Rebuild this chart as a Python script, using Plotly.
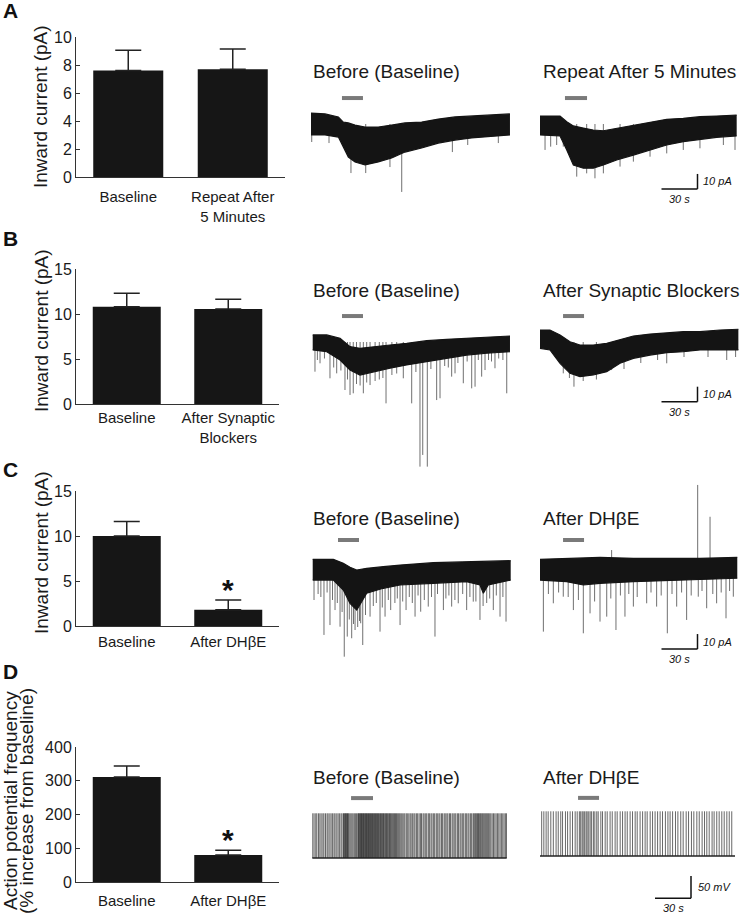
import plotly.graph_objects as go

W, H = 740, 923
FONT = "Liberation Sans, Arial, sans-serif"

# ---------------- bar chart data ----------------
A_cats = ["Baseline", "Repeat After<br>5 Minutes"]
A_mean = [7.6, 7.7]
A_sem = [1.45, 1.45]

B_cats = ["Baseline", "After Synaptic<br>Blockers"]
B_mean = [10.8, 10.55]
B_sem = [1.5, 1.1]

C_cats = ["Baseline", "After DHβE"]
C_mean = [10.0, 1.8]
C_sem = [1.6, 1.1]

D_cats = ["Baseline", "After DHβE"]
D_mean = [311, 80]
D_sem = [33, 14]

# ---------------- current traces (t in s, I in pA) ----------------
A1_t = [0, 11.7, 22.8, 26.9, 31.1, 36.7, 45, 56.1, 67.2, 78.3, 92.2, 106.1, 120, 133.9, 150.6, 165.8]
A1_hi = [7.3, 6.7, 4.7, 1.3, 0.7, -0.7, -2, -2, -0.7, 0.7, 1.3, 3.3, 4.7, 5.3, 6, 6.7]
A1_lo = [-7.3, -7.3, -8.7, -15.3, -22, -25.3, -27.3, -25.3, -22.7, -18.7, -16, -12.7, -10.7, -9.3, -8, -7.3]
A1_ev_t = [0.6, 15, 33.3, 45.6, 65.8, 75.6, 117.8, 130.6, 156.1]
A1_ev_i = [-12, -12.7, -32.7, -32.7, -28.7, -45.3, -18.7, -14, -12.7]

A2_t = [0, 16.7, 22.3, 27.8, 36.1, 44.4, 52.8, 63.9, 77.8, 91.7, 105.6, 119.4, 133.3, 147.2, 163.9]
A2_hi = [5.3, 5.3, 1.5, -1.3, -2.7, -4, -4.5, -2.9, -0.7, 1.5, 3.1, 3.8, 4.9, 5.3, 6]
A2_lo = [-7.3, -8, -17.3, -27.3, -29.5, -29.5, -27.3, -24, -20.7, -17.3, -14, -11.8, -10.2, -8.9, -8]
A2_ev_t = [4.2, 8.9, 13.9, 19.4, 30.6, 38.9, 45.8, 52.8, 66.7, 77.8, 91.7, 105.6, 119.4, 133.3, 152.8, 162.5]
A2_ev_i = [-17.3, -15.1, -14, -15.1, -35.1, -32.9, -36.2, -32.9, -28.4, -25.1, -21.8, -19.6, -17.3, -16.2, -14, -17.3]

B1_t = [0, 11.7, 22.8, 31.1, 39.4, 50.5, 64.4, 78.3, 95, 111.7, 128.3, 145, 164.4]
B1_hi = [4.7, 4.7, 2.5, -3.1, -4.2, -3.1, -2, -0.9, 0.9, 1.8, 2.5, 3.1, 4]
B1_lo = [-5.3, -6.5, -12, -18.7, -22, -19.8, -17.5, -15.3, -13.1, -10.9, -8.7, -7.5, -6.5]
B1_ev_t = [1.9, 6.1, 14.4, 20, 26.9, 31.1, 33.8, 42.2, 47.8, 61.1, 75.5, 82.5, 89.4, 91.7, 95.5,
           103.3, 106.1, 115.8, 118.6, 125.5, 132.5, 135.3, 140.8, 143.6, 151.9, 161.7,
           3.9, 9.8, 17.5, 23.5, 29, 36.5, 39.5, 45, 52, 55.5, 58.5, 66, 70, 86, 98.5, 110, 113, 121,
           128.7, 138, 146.5, 149, 155, 158.5]
B1_ev_i = [-19.8, -14.2, -24.2, -20.9, -32, -35.3, -34.2, -34.2, -28.7, -40.9, -24.2, -40.9, -83.1, -75.3, -83.1,
           -38.7, -37.5, -23.1, -20.9, -27.5, -30.9, -29.8, -23.1, -18.7, -17.5, -34.2,
           -12, -11, -17, -19, -25, -28, -29, -27, -26, -25, -24, -22, -21, -20, -18, -16, -17, -14,
           -13, -12, -12, -13, -11, -12]

B2_t = [0, 8.3, 16.7, 25, 33.3, 44.4, 55.6, 66.7, 77.8, 91.7, 105.6, 119.4, 133.3, 150, 165.3]
B2_hi = [8, 8, 4.7, 0.2, -2, -2, -0.9, 1.8, 4, 5.3, 6.2, 6.9, 6.9, 8, 8.5]
B2_lo = [-4.2, -5.3, -14.2, -20.9, -23.1, -22, -19.8, -14.2, -10.9, -8.7, -7.1, -6.5, -5.3, -5.3, -5.3]
B2_ev_t = [19.4, 28.3, 59.7, 105.6, 155.6, 24.5, 36, 47, 70, 84, 98, 120, 140, 163]
B2_ev_i = [-20.9, -29.8, -18.7, -14.2, -12, -24, -26, -25, -18, -14, -12, -10, -10, -10]

C1_t = [0, 17.2, 25.5, 31.1, 36.7, 45, 58.8, 72.8, 100.5, 128.3, 139.4, 142.2, 146.3, 165]
C1_hi = [7.1, 7.1, 4.5, 1.8, 0, 1.1, 2.2, 3.3, 4.9, 5.5, 5.5, 5.5, 5.5, 6.2]
C1_lo = [-6.7, -6.7, -13.3, -22.2, -26.7, -15.5, -12.2, -10, -8.9, -7.8, -10, -15.5, -10, -6.7]
C1_ev_t = [1.1, 9.4, 14.4, 18.6, 22.8, 26.3, 28.8, 32.5, 35.3, 40, 41.7, 47.8, 56.1, 60.3, 65, 72.8, 77.8,
           85.3, 90, 96.3, 101.9, 108.9, 115.8, 121.3, 128.3, 133.8, 139.4, 150.5, 156.1, 161.1,
           4.5, 6.8, 12, 16.5, 20.5, 24.5, 30.5, 34, 37.5, 39, 44, 50.5, 53, 58, 63, 68.5, 70.5, 75,
           80.5, 83, 87.8, 93, 99, 104, 111, 113.5, 118.5, 125, 131, 136, 142, 145, 147.5, 153, 158.5]
C1_ev_i = [-20, -43.3, -36.7, -26.7, -37.8, -57.8, -44.4, -45.5, -40, -35.5, -50, -31.1, -41.1, -31.1, -26.7,
           -36.7, -26.7, -31.1, -27.8, -24.4, -44.4, -26.7, -24.4, -22.2, -26.7, -21.1, -33.3, -26.7, -31.1, -34.4,
           -16, -18, -15, -20, -22, -28, -33, -36, -38, -34, -30, -24, -22, -25, -20, -22, -19, -21,
           -18, -22, -17, -20, -18, -16, -19, -17, -20, -16, -18, -21, -24, -22, -19, -17, -18]

C2_t = [0, 22.2, 36.1, 50, 77.8, 105.6, 133.3, 164.4]
C2_hi = [7.1, 7.8, 7.8, 8.4, 7.8, 7.8, 7.8, 8.4]
C2_lo = [-6.7, -7.8, -10, -8.9, -7.8, -7.1, -6.7, -5.5]
C2_ev_t = [2.8, 11.1, 19.4, 27.8, 36.1, 41.7, 50, 55.6, 63.3, 70.8, 77.8, 88.9, 97.2, 106.1, 113.9, 122.2,
           131.9, 138.9, 147.2, 155, 161.1, 59.7, 131.4, 141.7,
           7, 15.5, 23.5, 32, 45.5, 59, 67, 74, 81, 92.5, 101, 110, 118, 126, 135, 144, 151, 158]
C2_ev_i = [-41.1, -22.2, -17.8, -26.7, -42.2, -28.9, -34.4, -31.1, -40, -31.1, -24.4, -22.2, -24.4, -42.2,
           -24.4, -33.3, -17.8, -25.5, -22.2, -32.2, -17.8, 13.3, 56.7, 35.5,
           -16, -15, -18, -20, -21, -19, -17, -16, -18, -15, -17, -16, -15, -17, -14, -16, -15, -14]

# drug application (s)
A1_drug = [25.8, 43.3]
A2_drug = [20.8, 39.2]
B1_drug = [24.4, 41.9]
B2_drug = [19.2, 36.7]
C1_drug = [21.1, 38.6]
C2_drug = [19.2, 36.7]
D1_drug = [32.3, 50.6]
D2_drug = [31.7, 49.2]

# ---------------- action potential traces (spike times, s) ----------------
D_rest = -60
D_peak = 40
D1_end = 162
D2_end = 162.5
D1_spikes = [0.4, 1.5, 2.9, 3.8, 5.2, 6.3, 7.4, 8.8, 9.7, 11.0, 12.3, 13.2, 14.6, 15.7, 16.9, 18.1, 19.0,
             20.4, 21.5, 22.6, 23.9, 24.8,
             26.0, 26.5, 27.1, 27.6, 28.2, 28.7, 29.3, 29.8, 30.4,
             31.3, 32.2, 33.1, 34.0, 35.0, 35.9, 36.8,
             37.9, 38.4, 38.9, 39.5, 40.0, 40.5, 41.0, 41.6, 42.1, 42.6, 43.1, 43.7, 44.2, 44.7, 45.2, 45.8,
             46.3, 46.8, 47.4, 47.9, 48.4, 49.0, 49.5, 50.1, 50.6, 51.2, 51.7, 52.3, 52.8, 53.4, 54.0, 54.5,
             55.1, 55.7, 56.3, 56.9, 57.5, 58.1, 58.7, 59.3, 59.9, 60.6, 61.2, 61.8, 62.5, 63.1, 63.8, 64.4,
             65.1, 65.8, 66.5, 67.2, 67.9, 68.6, 69.3, 70.1, 70.8, 71.6, 72.4, 73.2,
             74.1, 75.0, 76.2, 77.1, 78.3, 79.2, 80.4, 81.5, 82.4, 83.6, 84.7, 85.6, 86.9, 87.8, 89.0, 90.1,
             91.0, 92.3, 93.2, 94.5, 95.4, 96.7, 97.6, 98.9, 99.8, 101.1, 102.0, 103.3, 104.2, 105.5, 106.4,
             107.7, 108.6, 109.9, 110.8, 112.1, 113.0, 114.3, 115.2, 116.5, 117.4, 118.7, 119.6, 120.9, 121.8,
             123.1, 124.0, 125.3, 126.2, 127.5, 128.4, 129.7, 130.6, 131.9, 132.8, 134.0, 134.7, 135.5, 136.2,
             137.0, 137.7, 138.5, 139.2, 140.0, 140.7, 141.5, 142.2, 143.0, 143.8, 144.6, 145.4, 146.2, 147.0,
             147.9, 148.8, 149.9, 151.0, 152.1, 153.2, 154.3, 155.4, 156.5, 157.6, 158.7, 159.8, 160.9, 161.8]
D2_spikes = [1.4, 3.2, 5.1, 6.8, 9.0, 11.1, 13.4, 15.2, 17.3, 18.8, 21.2, 23.0, 25.1, 27.1, 29.3, 31.0, 32.8,
             33.9, 35.1, 36.0, 37.2, 38.4, 39.3, 40.6, 41.8, 43.0, 44.5, 45.7, 47.3, 48.5, 50.7, 52.1, 54.3,
             56.0, 58.4, 60.2, 62.6, 64.3, 66.8, 68.8, 70.9, 72.7, 75.1, 77.1, 79.3, 81.0, 83.4, 85.5, 87.6,
             89.3, 91.8, 93.8, 95.9, 98.0, 100.1, 102.1, 104.5, 106.6, 108.4, 110.5, 112.9, 114.9, 117.3,
             119.3, 121.8, 123.8, 126.2, 128.2, 130.7, 132.7, 135.1, 137.1, 139.0, 141.0, 143.4, 145.1,
             147.3, 149.3, 151.5, 153.5, 155.7, 157.7, 159.8]

fig = go.Figure()


def xd(p0, p1):
    return [p0 / W, p1 / W]


def yd(top, bot):
    return [1 - bot / H, 1 - top / H]


def px(x):
    return x / W


def py(y):
    return 1 - y / H


layout = dict(width=W, height=H, margin=dict(l=0, r=0, t=0, b=0, pad=0, autoexpand=False),
              showlegend=False, paper_bgcolor="white", plot_bgcolor="rgba(0,0,0,0)",
              font=dict(family=FONT, color="#1a1a1a"))
annotations = []
shapes = []

# ---------------- bar panels ----------------
bar_panels = [
    (A_cats, A_mean, A_sem, [0, 10], [0, 2, 4, 6, 8, 10], (76, 285), (37, 177), False, 6),
    (B_cats, B_mean, B_sem, [0, 15], [0, 5, 10, 15], (76, 279), (269, 404), False, 0),
    (C_cats, C_mean, C_sem, [0, 15], [0, 5, 10, 15], (76, 279), (491, 626), True, 2),
    (D_cats, D_mean, D_sem, [0, 400], [0, 100, 200, 300, 400], (76, 279), (747, 882), True, 5),
]
ax_i = 1
for cats, mean, sem, yr, tv, xdp, ydp, star, stand in bar_panels:
    xa = "x" if ax_i == 1 else f"x{ax_i}"
    ya = "y" if ax_i == 1 else f"y{ax_i}"
    fig.add_trace(go.Bar(x=[0, 1], y=mean, xaxis=xa, yaxis=ya, width=0.67,
                         marker=dict(color="#161616", line=dict(width=0)),
                         error_y=dict(type="data", symmetric=False, array=sem, arrayminus=[0, 0],
                                      color="#222", thickness=1.5, width=13)))
    key = "" if ax_i == 1 else str(ax_i)
    layout["xaxis" + key] = dict(domain=xd(*xdp), range=[-0.5, 1.5], anchor=ya, tickvals=[0, 1],
                                 ticktext=cats, showline=True, linecolor="#333", linewidth=1,
                                 ticks="", showgrid=False, zeroline=False, fixedrange=True,
                                 ticklabelstandoff=stand,
                                 tickfont=dict(size=15, family=FONT, color="#1a1a1a"))
    layout["yaxis" + key] = dict(domain=yd(*ydp), range=yr, anchor=xa, tickvals=tv,
                                 showline=True, linecolor="#333", linewidth=1, ticks="inside",
                                 ticklen=4, tickcolor="#333", showgrid=False, zeroline=False,
                                 fixedrange=True, tickfont=dict(size=16, family=FONT, color="#1a1a1a"))
    if star:
        annotations.append(dict(xref=xa, yref=ya, x=1, y=mean[1] + sem[1], text="<b>*</b>",
                                showarrow=False, yanchor="bottom", yshift=-8,
                                font=dict(size=30, family=FONT, color="#111")))
    ax_i += 1

# y-axis titles
for yc in (107, 331, 553):
    annotations.append(dict(xref="paper", yref="paper", x=px(41), y=py(yc), text="Inward current (pA)",
                            textangle=-90, showarrow=False, xanchor="center", yanchor="middle",
                            font=dict(size=19, family=FONT, color="#1a1a1a")))
annotations.append(dict(xref="paper", yref="paper", x=px(10), y=py(801), text="Action potential frequency",
                        textangle=-90, showarrow=False, xanchor="center", yanchor="middle",
                        font=dict(size=19, family=FONT, color="#1a1a1a")))
annotations.append(dict(xref="paper", yref="paper", x=px(26), y=py(801), text="(% increase from baseline)",
                        textangle=-90, showarrow=False, xanchor="center", yanchor="middle",
                        font=dict(size=19, family=FONT, color="#1a1a1a")))

# panel letters
for letter, yc in (("A", 11), ("B", 238), ("C", 469), ("D", 671)):
    annotations.append(dict(xref="paper", yref="paper", x=px(10), y=py(yc), text=f"<b>{letter}</b>",
                            showarrow=False, xanchor="center", yanchor="middle",
                            font=dict(size=21, family=FONT, color="#111")))

# ---------------- current traces ----------------
SX = 1.2   # px per s
SY = 1.5   # px per pA
cur_traces = [
    (A1_t, A1_hi, A1_lo, A1_ev_t, A1_ev_i, A1_drug, 17.3, 311, 124, (305, 525), (82, 205), "Before (Baseline)", 72),
    (A2_t, A2_hi, A2_lo, A2_ev_t, A2_ev_i, A2_drug, 17.3, 540, 124, (530, 740), (82, 205), "Repeat After 5 Minutes", 72),
    (B1_t, B1_hi, B1_lo, B1_ev_t, B1_ev_i, B1_drug, 17.3, 312.7, 342, (305, 525), (300, 470), "Before (Baseline)", 290),
    (B2_t, B2_hi, B2_lo, B2_ev_t, B2_ev_i, B2_drug, 17.3, 540, 342, (530, 740), (300, 470), "After Synaptic Blockers", 290),
    (C1_t, C1_hi, C1_lo, C1_ev_t, C1_ev_i, C1_drug, 20, 312.7, 570, (305, 525), (527, 668), "Before (Baseline)", 518),
    (C2_t, C2_hi, C2_lo, C2_ev_t, C2_ev_i, C2_drug, 20, 540, 570, (530, 740), (470, 668), "After DHβE", 518),
]
scale_info = {1: -43.3, 3: -39.8, 5: -52.7}
for k, (t, hi, lo, evt, evi, drug, dy, x0, yref, xdp, ydp, title, ty) in enumerate(cur_traces):
    key = str(ax_i)
    xa, ya = f"x{ax_i}", f"y{ax_i}"
    xr = [(xdp[0] - x0) / SX, (xdp[1] - x0) / SX]
    yr = [(yref - ydp[1]) / SY, (yref - ydp[0]) / SY]
    layout["xaxis" + key] = dict(domain=xd(*xdp), range=xr, visible=False, anchor=ya, fixedrange=True)
    layout["yaxis" + key] = dict(domain=yd(*ydp), range=yr, visible=False, anchor=xa, fixedrange=True)
    ex, ey = [], []
    for tt, ii in zip(evt, evi):
        ex += [tt, tt, None]
        ey += [0, ii, None]
    fig.add_trace(go.Scatter(x=ex, y=ey, mode="lines", xaxis=xa, yaxis=ya,
                             line=dict(color="#707070", width=1), hoverinfo="skip"))
    fig.add_trace(go.Scatter(x=t, y=lo, mode="lines", xaxis=xa, yaxis=ya,
                             line=dict(color="#141414", width=1.2), hoverinfo="skip"))
    fig.add_trace(go.Scatter(x=t, y=hi, mode="lines", xaxis=xa, yaxis=ya, fill="tonexty",
                             fillcolor="#141414", line=dict(color="#141414", width=1.2), hoverinfo="skip"))
    fig.add_trace(go.Scatter(x=drug, y=[dy, dy], mode="lines", xaxis=xa, yaxis=ya,
                             line=dict(color="#7a7a7a", width=4), hoverinfo="skip"))
    annotations.append(dict(xref="paper", yref="paper", x=px(xdp[0] + (6 if xdp[0] < 400 else 11)),
                            y=py(ty), text=title, showarrow=False, xanchor="left", yanchor="middle",
                            font=dict(size=19, family=FONT, color="#1a1a1a")))
    if k in scale_info:
        sb_y = scale_info[k]
        t1 = (697.5 - x0) / SX
        t0 = t1 - 30
        shapes.append(dict(type="line", xref=xa, yref=ya, x0=t0, x1=t1, y0=sb_y, y1=sb_y,
                           line=dict(color="#111", width=1.5)))
        shapes.append(dict(type="line", xref=xa, yref=ya, x0=t1, x1=t1, y0=sb_y, y1=sb_y + 10,
                           line=dict(color="#111", width=1.5)))
        annotations.append(dict(xref=xa, yref=ya, x=t1, y=sb_y + 5, xshift=3, text="<i>10 pA</i>",
                                showarrow=False, xanchor="left", yanchor="middle",
                                font=dict(size=11, family=FONT, color="#111")))
        annotations.append(dict(xref=xa, yref=ya, x=(t0 + t1) / 2, y=sb_y, yshift=-2, text="<i>30 s</i>",
                                showarrow=False, xanchor="center", yanchor="top",
                                font=dict(size=11, family=FONT, color="#111")))
    ax_i += 1

# ---------------- action potential traces ----------------
SYV = 0.447  # px per mV
d_traces = [
    (D1_spikes, D1_end, D1_drug, 312.3, 858, (305, 525), (765, 915), "Before (Baseline)", 74),
    (D2_spikes, D2_end, D2_drug, 540, 856, (530, 740), (765, 915), "After DHβE", 70),
]
for k, (spk, tend, drug, x0, basepx, xdp, ydp, title, dy) in enumerate(d_traces):
    key = str(ax_i)
    xa, ya = f"x{ax_i}", f"y{ax_i}"
    xr = [(xdp[0] - x0) / SX, (xdp[1] - x0) / SX]
    yr = [D_rest - (ydp[1] - basepx) / SYV, D_rest + (basepx - ydp[0]) / SYV]
    layout["xaxis" + key] = dict(domain=xd(*xdp), range=xr, visible=False, anchor=ya, fixedrange=True)
    layout["yaxis" + key] = dict(domain=yd(*ydp), range=yr, visible=False, anchor=xa, fixedrange=True)
    sx_, sy_ = [], []
    for tt in spk:
        sx_ += [tt, tt, None]
        sy_ += [D_rest, D_peak, None]
    fig.add_trace(go.Scatter(x=sx_, y=sy_, mode="lines", xaxis=xa, yaxis=ya,
                             line=dict(color="rgba(0,0,0,0.6)", width=1), hoverinfo="skip"))
    fig.add_trace(go.Scatter(x=[0, tend], y=[D_rest, D_rest], mode="lines", xaxis=xa, yaxis=ya,
                             line=dict(color="#222", width=1.5), hoverinfo="skip"))
    fig.add_trace(go.Scatter(x=drug, y=[dy, dy], mode="lines", xaxis=xa, yaxis=ya,
                             line=dict(color="#7a7a7a", width=4), hoverinfo="skip"))
    annotations.append(dict(xref="paper", yref="paper", x=px(xdp[0] + (6 if xdp[0] < 400 else 11)),
                            y=py(777), text=title, showarrow=False, xanchor="left", yanchor="middle",
                            font=dict(size=19, family=FONT, color="#1a1a1a")))
    if k == 1:
        t1 = (691 - x0) / SX
        t0 = t1 - 30
        v0 = D_rest - (898.3 - basepx) / SYV
        shapes.append(dict(type="line", xref=xa, yref=ya, x0=t0, x1=t1, y0=v0, y1=v0,
                           line=dict(color="#111", width=1.5)))
        shapes.append(dict(type="line", xref=xa, yref=ya, x0=t1, x1=t1, y0=v0, y1=v0 + 50,
                           line=dict(color="#111", width=1.5)))
        annotations.append(dict(xref=xa, yref=ya, x=t1, y=v0 + 25, xshift=5, text="<i>50 mV</i>",
                                showarrow=False, xanchor="left", yanchor="middle",
                                font=dict(size=11, family=FONT, color="#111")))
        annotations.append(dict(xref=xa, yref=ya, x=(t0 + t1) / 2, y=v0, yshift=-2, text="<i>30 s</i>",
                                showarrow=False, xanchor="center", yanchor="top",
                                font=dict(size=11, family=FONT, color="#111")))
    ax_i += 1

layout["annotations"] = annotations
layout["shapes"] = shapes
fig.update_layout(**layout)
fig.write_html("out.html", config={"displayModeBar": False},
               post_script="document.body.style.margin='0px';document.body.style.overflow='hidden';")
